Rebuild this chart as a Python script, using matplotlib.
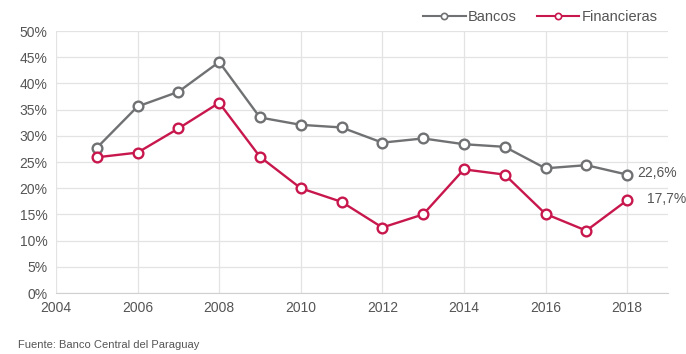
import matplotlib
matplotlib.use('Agg')
from matplotlib import pyplot as plt
from matplotlib.ticker import FuncFormatter

plt.rcParams['font.family'] = ['Liberation Sans', 'DejaVu Sans']

years = [2005, 2006, 2007, 2008, 2009, 2010, 2011, 2012, 2013, 2014, 2015, 2016, 2017, 2018]
bancos = [27.7, 35.6, 38.4, 44.1, 33.5, 32.1, 31.6, 28.7, 29.5, 28.4, 27.9, 23.8, 24.4, 22.6]
financieras = [25.9, 26.8, 31.4, 36.3, 26.0, 20.0, 17.4, 12.5, 15.0, 23.6, 22.6, 15.1, 11.9, 17.7]
xticks = [2004, 2006, 2008, 2010, 2012, 2014, 2016, 2018]
yticks = [0, 5, 10, 15, 20, 25, 30, 35, 40, 45, 50]

grisBancos = '#707173'
rojoFin = '#c8174d'
grisTexto = '#555555'

fig = plt.figure(figsize=(6.86, 3.54), dpi=100)
ax = fig.add_axes([0.0816, 0.1723, 0.892, 0.740])

lineas = []
for serie, color, nombre in [(bancos, grisBancos, 'Bancos'), (financieras, rojoFin, 'Financieras')]:
    ax.plot(years, serie, color=color, lw=1.7, marker='o', ms=7,
            mfc='white', mec=color, mew=1.7, zorder=3)
    # version pequena solo para la leyenda
    l, = ax.plot([], [], color=color, lw=1.5, marker='o', ms=4.5,
                 mfc='white', mec=color, mew=1.2, label=nombre)
    lineas.append(l)

# etiquetas del ultimo valor
ax.annotate('22,6%', (years[-1], bancos[-1]), xytext=(7, 1), textcoords='offset points',
            va='center', ha='left', fontsize=10, color=grisTexto)
ax.annotate('17,7%', (years[-1], financieras[-1]), xytext=(14, 1), textcoords='offset points',
            va='center', ha='left', fontsize=10, color=grisTexto)

ax.set_xlim(2004, 2019)
ax.set_ylim(0, 50)
ax.set_xticks(xticks)
ax.set_yticks(yticks)
ax.yaxis.set_major_formatter(FuncFormatter(lambda v, p: '%d%%' % v))
ax.grid(True, color='#e3e3e3', lw=0.9)
ax.set_axisbelow(True)
for s in ['top', 'right', 'left']:
    ax.spines[s].set_visible(False)
ax.spines['bottom'].set_color('#d0d0d0')
ax.tick_params(length=0, labelsize=10, colors=grisTexto, pad=6)

ax.legend(handles=lineas, loc='lower right', bbox_to_anchor=(0.995, 1.0), ncol=2, frameon=False,
          fontsize=10.5, handlelength=2.9, columnspacing=1.4, handletextpad=0.15,
          labelcolor=grisTexto, borderaxespad=0.1)

fig.text(0.026, 0.018, 'Fuente: Banco Central del Paraguay', fontsize=8, color=grisTexto)

plt.savefig('out.png', dpi=100)
